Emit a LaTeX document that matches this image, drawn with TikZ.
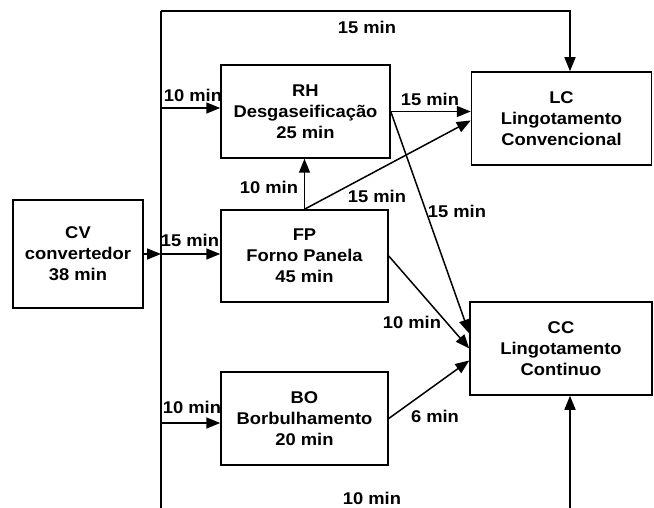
\documentclass[tikz,border=0pt]{standalone}
\usepackage{fontspec}
\setmainfont{Liberation Sans}[FakeStretch=1.08]
\usetikzlibrary{arrows.meta, positioning, calc}

\begin{document}
\begin{tikzpicture}[x=1pt, y=-1pt, font=\fontsize{17}{21}\selectfont\bfseries,
    box/.style={draw, line width=1.5pt, align=center, inner sep=0pt},
    flow/.style={line width=1.5pt, -{Triangle[length=14pt, width=11pt]}},
    lbl/.style={inner sep=0pt}]
    \useasboundingbox (0,0) rectangle (654,508);

    % stations
    \node[box, minimum width=130pt, minimum height=108pt] (cv) at (78,254) {CV\\convertedor\\38 min};
    \node[box, minimum width=169pt, minimum height=93pt] (rh) at (305.5,111.5) {RH\\Desgaseificação\\25 min};
    \node[box, minimum width=167pt, minimum height=92pt] (fp) at (304.5,256) {FP\\Forno Panela\\45 min};
    \node[box, minimum width=167pt, minimum height=93pt] (bo) at (304.5,418.5) {BO\\Borbulhamento\\20 min};
    \node[box, minimum width=180pt, minimum height=93pt] (lc) at (561.5,118.5) {LC\\Lingotamento\\Convencional};
    \node[box, minimum width=182pt, minimum height=93pt] (cc) at (561,348.5) {CC\\Lingotamento\\Continuo};

    % junction points
    \coordinate (top) at (161,11);
    \coordinate (bot) at (161,508);
    \coordinate (jcv) at (161,254);
    \coordinate (jrh) at (161,108);
    \coordinate (jbo) at (161,423);
    \coordinate (tlc) at (570,11);
    \coordinate (bcc) at (570,508);

    \draw[line width=1.5pt] (top) -- (bot);
    \draw[flow] (cv.east) -- (jcv);
    \draw[flow] (jcv) -- (jcv -| fp.west);
    \draw[flow] (jrh) -- (jrh -| rh.west);
    \draw[flow] (jbo) -- (jbo -| bo.west);
    \draw[flow] (top) -- (tlc) -- (tlc |- lc.north);
    \draw[flow] (bcc) -- (bcc |- cc.south);
    \draw[flow] (fp.north) -- (fp.north |- rh.south);
    \draw[flow] (rh.east) -- (rh.east -| lc.west);
    \draw[flow] (fp.north) -- ([yshift=-2pt]lc.west);
    \draw[flow] (rh.east) -- ([yshift=15pt]cc.west);
    \draw[flow] (fp.east) -- (cc.west);
    \draw[flow] (bo.east) -- ([yshift=-12pt]cc.west);

    % times
    \node[lbl] (ttop) at (367,27) {15 min};
    \node[lbl] (trh) at (193,95) {10 min};
    \node[lbl] (tfprh) at (269,187) {10 min};
    \node[lbl] (tfp) at (190,240) {15 min};
    \node[lbl] (tbo) at (192,407) {10 min};
    \node[lbl] (trhlc) at (430,99) {15 min};
    \node[lbl] (tfplc) at (377,196) {15 min};
    \node[lbl] (trhcc) at (457,211) {15 min};
    \node[lbl] (tfpcc) at (412,322) {10 min};
    \node[lbl] (tbocc) at (435,416) {6 min};
    \node[lbl] (tbot) at (372,498) {10 min};
\end{tikzpicture}
\end{document}
